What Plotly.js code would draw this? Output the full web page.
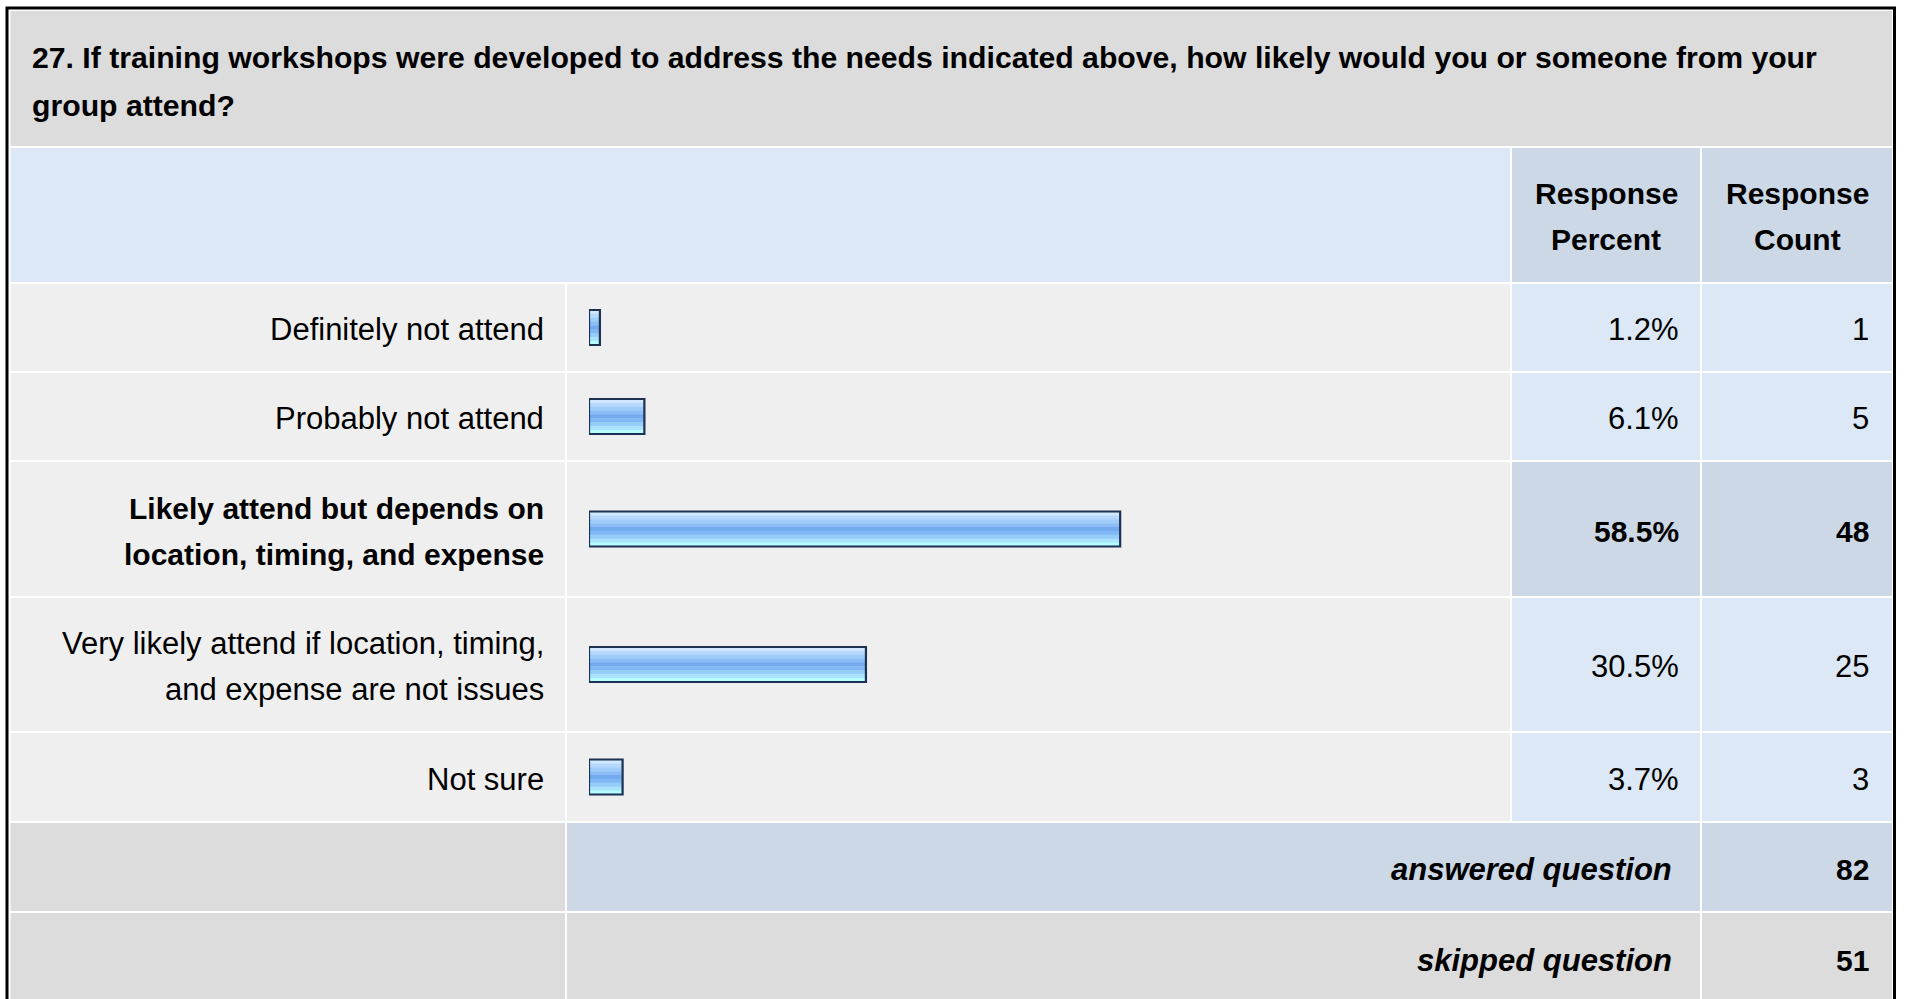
<!DOCTYPE html>
<html>
<head>
<meta charset="utf-8">
<script src="https://cdn.plot.ly/plotly-3.0.1.min.js"></script>
<style>
  html, body { margin: 0; padding: 0; background: #ffffff; }
  #chart { width: 1907px; height: 999px; }
</style>
</head>
<body>
<div id="chart"></div>
<script>
// ---------------- DATA ----------------
const questionTitle = '27. If training workshops were developed to address the needs indicated above, how likely would you or someone from your<br>group attend?';
const headerLabels = ['Response<br>Percent', 'Response<br>Count'];
const categories = [
  'Definitely not attend',
  'Probably not attend',
  'Likely attend but depends on<br>location, timing, and expense',
  'Very likely attend if location, timing,<br>and expense are not issues',
  'Not sure'
];
const percentValues = [1.2, 6.1, 58.5, 30.5, 3.7];
const countValues = [1, 5, 48, 25, 3];
const summaryLabels = ['answered question', 'skipped question'];
const summaryValues = [82, 51];

// ---------------- LAYOUT CONSTANTS ----------------
const W = 1907, H = 999;
const FONT = 'Liberation Sans, Arial, Helvetica, sans-serif';
const FS_BOLD = 30, FS_REG = 31, FS_TITLE = 30.2, FS_ITALIC = 31;
const LINE_GAP = 46;
const TEXT_DY = 2;
const COL_LABEL = [10.5, 565], COL_BAR = [567, 1510], COL_PCT = [1512, 1700], COL_CNT = [1702, 1892];
const TITLE_ROW = [11, 146], HEADER_ROW = [148, 282];
const DATA_ROWS = [[284, 371], [373, 460], [462, 596], [598, 731], [733, 821]];
const SUMMARY_ROWS = [[823, 911], [913, 1010]];
const BAR_X0 = 589, BAR_X100 = 1497;   // pixel positions of 0% and 100%
const BAR_H = 35;
const C_GRAY = '#dcdcdc', C_LIGHT = '#efefef', C_BLUE = '#dce8f5', C_DBLUE = '#ccd8e6';
const stripeColors = ['#cfe7ff', '#b6d9fd', '#a0ccfa', '#8bbef6', '#74aaee', '#80b8f3', '#96cdf9', '#a9e4fc', '#b6fbff'];

// highlighted (modal) row
const maxIdx = percentValues.indexOf(Math.max(...percentValues));
const rowCenters = DATA_ROWS.map(r => (r[0] + r[1]) / 2);

const px = x => x / W;
const shapes = [];
function cell(xr, yr, color) {
  shapes.push({type: 'rect', xref: 'paper', yref: 'y', x0: px(xr[0]), x1: px(xr[1]), y0: yr[0], y1: yr[1],
    fillcolor: color, line: {width: 0}, layer: 'below'});
}
// title + header
cell([COL_LABEL[0], COL_CNT[1]], TITLE_ROW, C_GRAY);
cell([COL_LABEL[0], COL_BAR[1]], HEADER_ROW, C_BLUE);
cell(COL_PCT, HEADER_ROW, C_DBLUE);
cell(COL_CNT, HEADER_ROW, C_DBLUE);
// data rows
DATA_ROWS.forEach((r, i) => {
  cell(COL_LABEL, r, C_LIGHT);
  cell(COL_BAR, r, C_LIGHT);
  cell(COL_PCT, r, i === maxIdx ? C_DBLUE : C_BLUE);
  cell(COL_CNT, r, i === maxIdx ? C_DBLUE : C_BLUE);
});
// summary rows
cell(COL_LABEL, SUMMARY_ROWS[0], C_GRAY);
cell([COL_BAR[0], COL_PCT[1]], SUMMARY_ROWS[0], C_DBLUE);
cell(COL_CNT, SUMMARY_ROWS[0], C_DBLUE);
cell(COL_LABEL, SUMMARY_ROWS[1], C_GRAY);
cell([COL_BAR[0], COL_PCT[1]], SUMMARY_ROWS[1], C_GRAY);
cell(COL_CNT, SUMMARY_ROWS[1], C_GRAY);
// outer frame
shapes.push({type: 'rect', xref: 'paper', yref: 'y', x0: px(7), x1: px(1894.5), y0: 8, y1: 1030,
  fillcolor: 'rgba(0,0,0,0)', line: {color: '#000000', width: 3}, layer: 'above'});

// ---------------- TEXT ----------------
const annotations = [];
function txt(text, x, y, xanchor, size) {
  annotations.push({text: text, xref: 'paper', yref: 'y', x: px(x), y: y,
    xanchor: xanchor, yanchor: 'middle', showarrow: false, align: xanchor,
    font: {family: FONT, size: size, color: '#000000'}});
}
function multiline(text, x, yc, xanchor, bold) {
  const lines = text.split('<br>');
  lines.forEach((ln, k) => {
    const y = yc + (k - (lines.length - 1) / 2) * LINE_GAP;
    txt(bold ? '<b>' + ln + '</b>' : ln, x, y, xanchor, bold ? FS_BOLD : FS_REG);
  });
}
// title
questionTitle.split('<br>').forEach((ln, k) => txt('<b>' + ln + '</b>', 29.5, 57 + k * 48, 'left', FS_TITLE));
// header
const hc = (HEADER_ROW[0] + HEADER_ROW[1]) / 2 + 1;
multiline(headerLabels[0], (COL_PCT[0] + COL_PCT[1]) / 2, hc, 'center', true);
multiline(headerLabels[1], (COL_CNT[0] + COL_CNT[1]) / 2, hc, 'center', true);
// rows
categories.forEach((c, i) => {
  const b = i === maxIdx;
  const yc = rowCenters[i] + TEXT_DY;
  multiline(c, 546, yc, 'right', b);
  multiline(percentValues[i].toFixed(1) + '%', 1681, yc, 'right', b);
  multiline(String(countValues[i]), 1871, yc, 'right', b);
});
// summary
SUMMARY_ROWS.forEach((r, i) => {
  const yc = i === 0 ? (r[0] + r[1]) / 2 + TEXT_DY : 960;
  txt('<b><i>' + summaryLabels[i] + '</i></b>', 1674, yc, 'right', FS_ITALIC);
  txt('<b>' + summaryValues[i] + '</b>', 1871, yc, 'right', FS_BOLD);
});

// ---------------- BARS (gradient stripes + outline) ----------------
const traces = [];
const sh = BAR_H / stripeColors.length;
stripeColors.forEach((col, i) => {
  traces.push({type: 'bar', orientation: 'h', x: percentValues, y: rowCenters,
    width: sh + 0.4, offset: -BAR_H / 2 + i * sh,
    marker: {color: col, line: {width: 0}}, hoverinfo: 'skip', showlegend: false});
});
traces.push({type: 'bar', orientation: 'h', x: percentValues, y: rowCenters,
  width: BAR_H, offset: -BAR_H / 2,
  marker: {color: 'rgba(0,0,0,0)', line: {color: '#1d3152', width: 2.2}}, hoverinfo: 'skip', showlegend: false});

const layout = {
  width: W, height: H,
  margin: {l: 0, r: 0, t: 0, b: 0, pad: 0},
  paper_bgcolor: '#ffffff', plot_bgcolor: 'rgba(0,0,0,0)',
  barmode: 'overlay', showlegend: false, hovermode: false,
  xaxis: {domain: [px(BAR_X0), px(BAR_X100)], range: [0, 100], visible: false, fixedrange: true},
  yaxis: {domain: [0, 1], range: [H, 0], visible: false, fixedrange: true},
  shapes: shapes, annotations: annotations
};
Plotly.newPlot('chart', traces, layout, {displayModeBar: false, staticPlot: true});
</script>
</body>
</html>
